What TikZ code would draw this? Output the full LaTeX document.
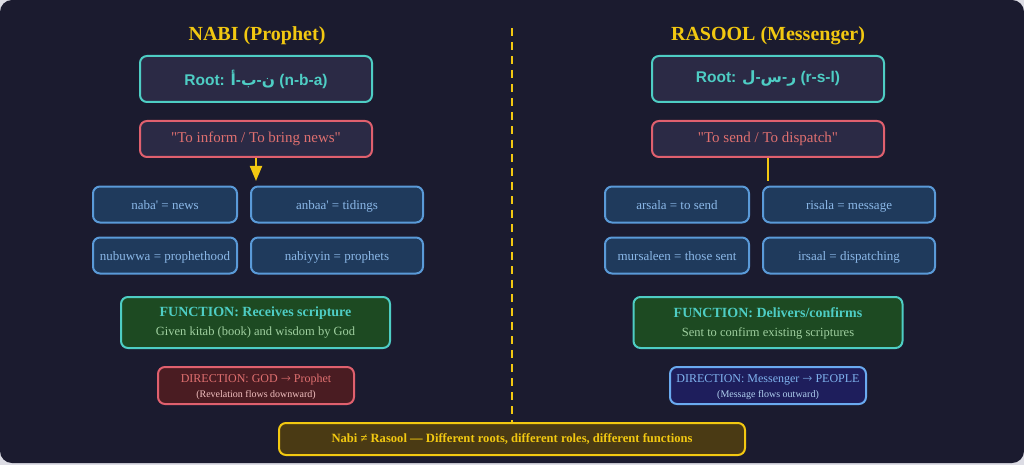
\documentclass[tikz,border=0pt]{standalone}
\usepackage{fontspec}
\setmainfont{Liberation Serif}[Ligatures=TeXOff]
\setsansfont{Liberation Sans}[Ligatures=TeXOff]
\newfontfamily\arabicfont[Script=Arabic]{DejaVu Sans}
\newfontfamily\arrowfont{DejaVu Sans ExtraLight}
\usetikzlibrary{arrows.meta}
\newcommand{\dq}{\symbol{34}}
\newcommand{\sq}{\symbol{39}}
\newcommand{\ar}[1]{{\arabicfont #1}}
\newcommand{\rarr}{{\arrowfont\fontsize{12}{12}\selectfont →}}
\definecolor{bgout}{HTML}{DCDCE4}
\definecolor{bgin}{HTML}{1B1B2F}
\definecolor{gold}{HTML}{F2C811}
\definecolor{teal}{HTML}{4ECDC4}
\definecolor{boxdark}{HTML}{2B2A45}
\definecolor{redb}{HTML}{E0606E}
\definecolor{redt}{HTML}{E07070}
\definecolor{bluef}{HTML}{1F3A5C}
\definecolor{blueb}{HTML}{5A9AD8}
\definecolor{bluet}{HTML}{8BB8E8}
\definecolor{greenf}{HTML}{1D4A22}
\definecolor{greent}{HTML}{A0D0A0}
\definecolor{dredf}{HTML}{4A1C22}
\definecolor{dredt}{HTML}{F2C0C0}
\definecolor{dbluef}{HTML}{1E1E5C}
\definecolor{dblueb}{HTML}{6AAAF0}
\definecolor{dbluet}{HTML}{80B4F0}
\definecolor{dbluesub}{HTML}{B0D0F0}
\definecolor{brownf}{HTML}{4A3A14}
\tikzset{
  basebox/.style={rounded corners=7pt, line width=2pt, inner sep=0pt, align=center},
  rootbox/.style={basebox, draw=teal, fill=boxdark, text=teal, minimum width=232pt, minimum height=46pt, font=\sffamily\bfseries\fontsize{15.5}{18}\selectfont},
  quotebox/.style={basebox, draw=redb, fill=boxdark, text=redt, minimum width=232pt, minimum height=36pt, font=\fontsize{15}{17}\selectfont},
  wordbox/.style={basebox, draw=blueb, fill=bluef, text=bluet, minimum height=36pt, font=\fontsize{13}{15}\selectfont, text height=10pt, text depth=1pt},
  funcbox/.style={basebox, draw=teal, fill=greenf, minimum width=269pt, minimum height=51pt},
  dirbox/.style={basebox, minimum width=196pt, minimum height=37pt},
  titletext/.style={text=gold, font=\bfseries\fontsize{20}{22}\selectfont, inner sep=0pt},
  dirtitle/.style={font=\fontsize{12}{14}\selectfont, inner sep=0pt},
  dirsub/.style={font=\fontsize{10}{12}\selectfont, inner sep=0pt},
}
\begin{document}
\begin{tikzpicture}[x=1pt,y=-1pt]
\useasboundingbox (0,0) rectangle (1024,465);
\fill[bgout] (0,0) rectangle (1024,465);
\fill[bgin, rounded corners=12pt] (0,0) rectangle (1024,463);
% divider
\coordinate (dtop) at (512,28);
\coordinate (dbot) at (512,422);
\draw[gold, line width=2pt, dash pattern=on 8pt off 6pt] (dtop) -- (dbot);
% titles
\node[titletext] (tl) at (257,36) {NABI (Prophet)};
\node[titletext] (tr) at (768,36) {RASOOL (Messenger)};
% root boxes
\node[rootbox] (rl) at (256,79) {Root: \ar{أ}-\ar{ب}-\ar{ن} (n-b-a)};
\node[rootbox] (rr) at (768,79) {Root: \ar{ل}-\ar{س}-\ar{ر} (r-s-l)};
% quote boxes
\node[quotebox] (ql) at (256,139) {\dq To inform / To bring news\dq};
\node[quotebox] (qr) at (768,139) {\dq To send / To dispatch\dq};
% word boxes left
\node[wordbox, minimum width=144pt] (w1) at (165,204.5) {naba\sq{} = news};
\node[wordbox, minimum width=172pt] (w2) at (337,204.5) {anbaa\sq{} = tidings};
\node[wordbox, minimum width=144pt] (w3) at (165,255.5) {nubuwwa = prophethood};
\node[wordbox, minimum width=172pt] (w4) at (337,255.5) {nabiyyin = prophets};
% word boxes right
\node[wordbox, minimum width=144pt] (v1) at (677,204.5) {arsala = to send};
\node[wordbox, minimum width=172pt] (v2) at (849,204.5) {risala = message};
\node[wordbox, minimum width=144pt] (v3) at (677,255.5) {mursaleen = those sent};
\node[wordbox, minimum width=172pt] (v4) at (849,255.5) {irsaal = dispatching};
% connectors
\coordinate (al) at (256,181);
\coordinate (ar) at (768,181);
\draw[gold, line width=2pt, -{Triangle[length=15pt,width=12pt]}] (ql.south) -- (al);
\draw[gold, line width=2pt] (qr.south) -- (ar);
% function boxes
\node[funcbox] (fl) at (255.5,322.5) {};
\node[text=teal, font=\bfseries\fontsize{14}{16}\selectfont, inner sep=0pt] (flt) at (255.5,313) {FUNCTION: Receives scripture};
\node[text=greent, font=\fontsize{12.5}{14}\selectfont, inner sep=0pt] (fls) at (255.5,333) {Given kitab (book) and wisdom by God};
\node[funcbox] (fr) at (768,322.5) {};
\node[text=teal, font=\bfseries\fontsize{14}{16}\selectfont, inner sep=0pt] (frt) at (768,313) {FUNCTION: Delivers/confirms};
\node[text=greent, font=\fontsize{12.5}{14}\selectfont, inner sep=0pt] (frs) at (768,333) {Sent to confirm existing scriptures};
% direction boxes
\node[dirbox, draw=redb, fill=dredf] (dl) at (256,385.5) {};
\node[dirtitle, text=redt] (dlt) at (256,380) {DIRECTION: GOD \rarr{} Prophet};
\node[dirsub, text=dredt] (dls) at (256,395) {(Revelation flows downward)};
\node[dirbox, draw=dblueb, fill=dbluef] (dr) at (768,385.5) {};
\node[dirtitle, text=dbluet] (drt) at (768,380) {DIRECTION: Messenger \rarr{} PEOPLE};
\node[dirsub, text=dbluesub] (drs) at (768,395) {(Message flows outward)};
% bottom
\node[basebox, draw=gold, fill=brownf, text=gold, minimum width=466pt, minimum height=32pt, font=\bfseries\fontsize{12.6}{14}\selectfont] (bot) at (512,439) {Nabi ≠ Rasool — Different roots, different roles, different functions};
\end{tikzpicture}
\end{document}
